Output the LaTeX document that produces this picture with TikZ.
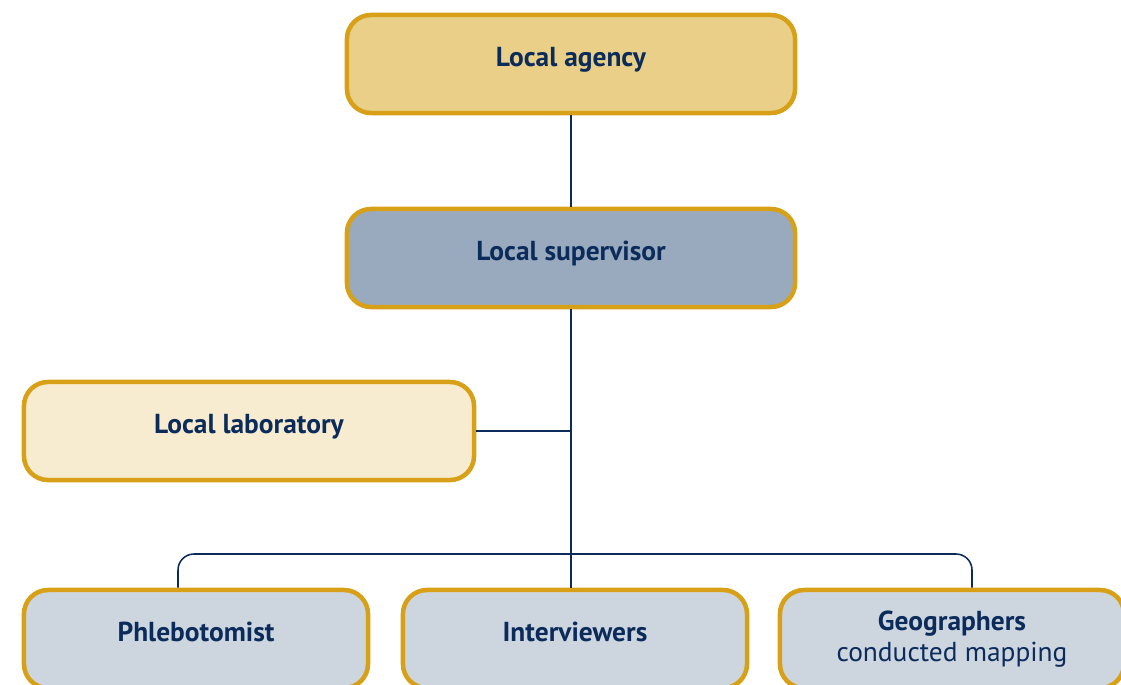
\documentclass[tikz,border=0pt]{standalone}
\usepackage{fontspec}
\setmainfont{PT Sans}
\usetikzlibrary{positioning}
\definecolor{navy}{RGB}{11,44,91}
\definecolor{goldrim}{RGB}{215,160,22}
\definecolor{agencyc}{RGB}{233,207,135}
\definecolor{superc}{RGB}{153,170,191}
\definecolor{labc}{RGB}{248,236,208}
\definecolor{staffc}{RGB}{205,213,223}
\begin{document}
\begin{tikzpicture}[x=0.025cm, y=-0.025cm,
  orgbox/.style={draw=goldrim, line width=3.2pt, rounded corners=0.6cm,
    minimum width=11.2cm, minimum height=2.45cm, text=navy, align=center,
    font=\fontsize{19.5}{22}\selectfont\bfseries},
  oneline/.style={text height=0.75em, text depth=0.35em},
  staffbox/.style={orgbox, fill=staffc, minimum width=8.6cm},
  link/.style={draw=navy, line width=1.1pt}]
  \useasboundingbox (0,0) rectangle (1121,685);
  % top of the chart
  \node[orgbox, oneline, fill=agencyc] (agency) at (571,64) {Local agency};
  \node[orgbox, oneline, fill=superc] (super) at (571,258) {Local supervisor};
  \node[orgbox, oneline, fill=labc, minimum width=11.25cm] (lab) at (249,431) {Local laboratory};
  % field staff
  \node[staffbox, oneline] (phleb) at (196,639) {Phlebotomist};
  \node[staffbox, oneline] (inter) at (575,639) {Interviewers};
  \node[staffbox] (geo) at (952,639) {Geographers\\\mdseries conducted mapping};
  % connectors
  \coordinate (brL) at (178,554);
  \coordinate (brR) at (972,554);
  \draw[link] (agency) -- (super);
  \draw[link] (super.south) -- (super.south |- inter.north);
  \draw[link] (lab.east) -- (lab.east -| super.south);
  \draw[link, rounded corners=0.4cm] (phleb.north -| brL) -- (brL) -- (brR) -- (geo.north -| brR);
\end{tikzpicture}
\end{document}
